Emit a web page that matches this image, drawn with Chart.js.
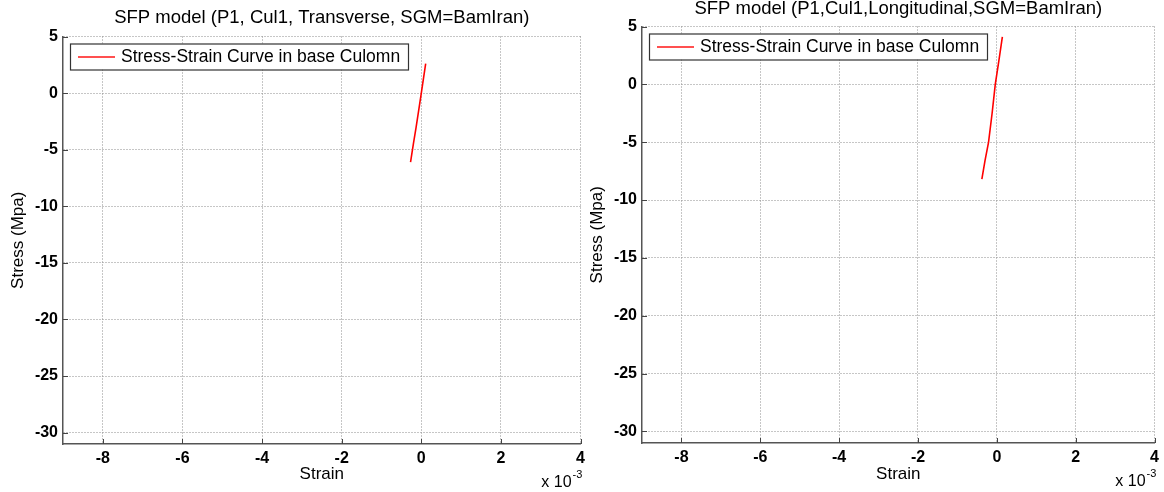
<!DOCTYPE html>
<html>
<head>
<meta charset="utf-8">
<script src="https://cdn.jsdelivr.net/npm/chart.js@4"></script>
<style>
  html, body { margin: 0; padding: 0; background: #fff; }
  body { width: 1164px; height: 492px; position: relative; overflow: hidden; }
  canvas { position: absolute; top: 0; }
  #leftChart { left: 0; }
  #rightChart { left: 578px; }
</style>
</head>
<body>
<canvas id="leftChart" width="590" height="492"></canvas>
<canvas id="rightChart" width="586" height="492"></canvas>
<script>
const seriesLabel = "Stress-Strain Curve in base Culomn";
const xTicks = [-8e-3, -6e-3, -4e-3, -2e-3, 0, 2e-3, 4e-3];
const yTicks = [5, 0, -5, -10, -15, -20, -25, -30];

const leftStrain = [-0.27e-3, -0.2e-3, -0.13e-3, -0.06e-3, 0.0, 0.05e-3, 0.11e-3];
const leftStress = [-6.1, -4.5, -3.0, -1.4, 0.0, 1.2, 2.6];

const rightStrain = [-0.38e-3, -0.3e-3, -0.21e-3, -0.12e-3, -0.04e-3, 0.05e-3, 0.14e-3];
const rightStress = [-8.2, -6.6, -5.0, -2.5, 0.0, 2.0, 4.1];

const FONT = "'Liberation Sans', Arial, Helvetica, sans-serif";

// legend box, inward tick marks and the x 10^-3 multiplier
const extrasPlugin = {
  id: "extras",
  afterDraw(chart) {
    const ctx = chart.ctx;
    const area = chart.chartArea;
    const xs = chart.scales.x;
    const ys = chart.scales.y;
    ctx.save();

    ctx.strokeStyle = "#444";
    ctx.lineWidth = 1;
    ctx.beginPath();
    xs.ticks.forEach(function (t) {
      const px = Math.round(xs.getPixelForValue(t.value)) + 0.5;
      ctx.moveTo(px, area.bottom);
      ctx.lineTo(px, area.bottom - 5);
    });
    ys.ticks.forEach(function (t) {
      const py = Math.round(ys.getPixelForValue(t.value)) + 0.5;
      ctx.moveTo(area.left, py);
      ctx.lineTo(area.left + 5, py);
    });
    ctx.stroke();

    // legend
    const lx = area.left + 7, ly = area.top + 7, lw = 338, lh = 26;
    ctx.fillStyle = "#fff";
    ctx.fillRect(lx, ly, lw, lh);
    ctx.strokeStyle = "#333";
    ctx.lineWidth = 1.2;
    ctx.strokeRect(lx + 0.5, ly + 0.5, lw, lh);
    ctx.strokeStyle = "#ff5050";
    ctx.lineWidth = 2;
    ctx.beginPath();
    ctx.moveTo(lx + 8, ly + 13.5);
    ctx.lineTo(lx + 45, ly + 13.5);
    ctx.stroke();
    ctx.fillStyle = "#000";
    ctx.font = "17.5px " + FONT;
    ctx.textAlign = "left";
    ctx.textBaseline = "middle";
    ctx.fillText(chart.data.datasets[0].label, lx + 51, ly + 14);

    // exponent label
    ctx.font = "16px " + FONT;
    ctx.textAlign = "right";
    ctx.fillText("x 10", area.right - 9, area.bottom + 39);
    ctx.font = "11px " + FONT;
    ctx.textAlign = "left";
    ctx.fillText("-3", area.right - 8, area.bottom + 31);
    ctx.restore();
  },
};

function makeChart(id, titleText, strain, stress, box) {
  const points = strain.map(function (x, i) {
    return { x: x, y: stress[i] };
  });
  return new Chart(document.getElementById(id).getContext("2d"), {
    type: "scatter",
    data: {
      datasets: [
        {
          label: seriesLabel,
          data: points,
          showLine: true,
          borderColor: "#ff0000",
          borderWidth: 1.6,
          pointRadius: 0,
        },
      ],
    },
    options: {
      responsive: false,
      animation: false,
      layout: { padding: { left: 0, right: box.padRight, top: 0, bottom: 0 } },
      plugins: {
        legend: { display: false },
        tooltip: { enabled: false },
        title: {
          display: true,
          fullSize: false,
          text: titleText,
          color: "#000",
          font: { family: FONT, size: 18.5, weight: "normal", lineHeight: 1 },
          padding: { top: box.titleTop, bottom: box.titleBottom },
        },
      },
      scales: {
        x: {
          type: "linear",
          min: -9e-3,
          max: 4e-3,
          afterBuildTicks: function (s) {
            s.ticks = xTicks.map(function (v) { return { value: v }; });
          },
          afterFit: function (s) { s.height = box.xHeight; },
          ticks: {
            padding: 5,
            color: "#000",
            font: { family: FONT, size: 16, weight: "bold" },
            callback: function (v) { return Math.round(v * 1000); },
          },
          grid: { color: "#8c8c8c", lineWidth: 1, drawTicks: false },
          border: { display: true, color: "#555", width: 1.5, dash: [1, 2] },
          title: {
            display: true,
            text: "Strain",
            color: "#000",
            font: { family: FONT, size: 17, lineHeight: 1.2 },
            padding: { top: 0, bottom: box.xTitleBottom },
          },
        },
        y: {
          type: "linear",
          min: -31,
          max: 5,
          afterBuildTicks: function (s) {
            s.ticks = yTicks.map(function (v) { return { value: v }; });
          },
          afterFit: function (s) { s.width = box.yWidth; },
          ticks: {
            padding: 5,
            color: "#000",
            font: { family: FONT, size: 16, weight: "bold" },
          },
          grid: { color: "#8c8c8c", lineWidth: 1, drawTicks: false },
          border: { display: true, color: "#555", width: 1.5, dash: [1, 2] },
          title: {
            display: true,
            text: "Stress (Mpa)",
            color: "#000",
            font: { family: FONT, size: 17, lineHeight: 1.2 },
            padding: { top: box.yTitleLeft, bottom: 0 },
          },
        },
      },
    },
    plugins: [extrasPlugin],
  });
}

document.addEventListener("DOMContentLoaded", function () {
  // Transverse
  makeChart("leftChart", "SFP model (P1, Cul1, Transverse, SGM=BamIran)", leftStrain, leftStress, {
    padRight: 9, titleTop: 9, titleBottom: 9, xHeight: 48, xTitleBottom: 7, yWidth: 63, yTitleLeft: 8,
  });
  // Longitudinal
  makeChart("rightChart", "SFP model (P1,Cul1,Longitudinal,SGM=BamIran)", rightStrain, rightStress, {
    padRight: 8, titleTop: 0, titleBottom: 8, xHeight: 49, xTitleBottom: 7, yWidth: 64, yTitleLeft: 9,
  });
});
</script>
</body>
</html>
